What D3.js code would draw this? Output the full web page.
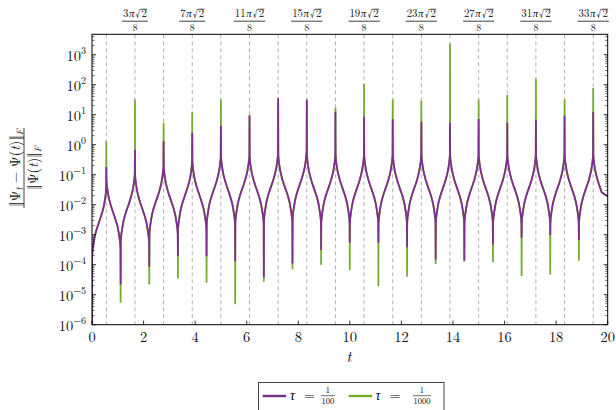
<!DOCTYPE html>
<html>
<head>
<meta charset="utf-8">
<script src="https://cdn.jsdelivr.net/npm/d3@7"></script>
<style>
  body { margin: 0; background: #fff; }
  svg { display: block; font-family: "Latin Modern Roman", "CMU Serif", "Liberation Serif", serif; }
</style>
</head>
<body>
<svg id="chart" width="616" height="410"></svg>
<script>
// ---- data ----
// spikes sit on t = (2k+1)·π√2/8, dips on t = k·π√2/4
const peakPurple = [0.18, 0.66, 1.3, 2.5, 4.3, 9.5, 36, 32, 12.6, 8.6, 7, 5.9, 5.4, 7.2, 5.4, 6.8, 9.3, 12.3];
const peakGreen  = [1.3, 32, 5.4, 12.3, 32, 9.3, 30, 28, 17, 108, 32, 29, 2300, 32, 45, 155, 32, 78];
const dipPurple = [2.2e-5, 8.5e-5, 1.9e-4, 1.9e-4, 1.3e-4, 3.8e-5, 1.1e-4, 3.1e-4, 5.4e-4,
                   5.4e-4, 3.8e-4, 1.5e-4, 1.3e-4, 4.6e-4, 7.9e-4, 9.8e-4, 6.6e-4];
const dipGreen  = [5.4e-6, 2.2e-5, 3.5e-5, 2.5e-5, 4.8e-6, 2.7e-5, 7.1e-5, 1.0e-4, 6.6e-5,
                   1.9e-5, 4.0e-5, 1.05e-4, 1.4e-4, 1.2e-4, 4.2e-5, 4.6e-5, 1.35e-4];
// level of the curve halfway between a dip and a spike, one per half period
const midLevel = [0.0027, 0.0051, 0.0085, 0.0076, 0.0145, 0.0145, 0.021, 0.021, 0.031, 0.031,
                  0.035, 0.032, 0.04, 0.035, 0.046, 0.035, 0.035, 0.035, 0.035, 0.035,
                  0.035, 0.035, 0.035, 0.035, 0.035, 0.035, 0.035, 0.035, 0.035, 0.035,
                  0.035, 0.035, 0.035, 0.035, 0.035, 0.035];
// shape of one half period: distance from the spike (fraction) and offset in decades
const shapeS   = [0.01, 0.03, 0.06, 0.1, 0.15, 0.2, 0.3, 0.4, 0.5, 0.6, 0.7, 0.8, 0.85, 0.9, 0.94, 0.97, 0.99];
const shapeDev = [1.1, 0.98, 0.85, 0.72, 0.58, 0.47, 0.29, 0.14, 0, -0.14, -0.29, -0.47, -0.6, -0.75, -0.88, -1.0, -1.15];
const startValue = 1e-6, endValue = 0.019;

const dashK = d3.range(1, 36, 2);                     // dashed lines at k·π√2/8
const topLabelPos = [3, 7, 11, 15, 19, 23, 27, 31, 35];
const topLabelNum = ["3", "7", "11", "15", "19", "23", "27", "31", "33"];
const xTicks = d3.range(0, 21, 2);
const yExp = d3.range(-6, 4);

const purple = "#7E2F8E", green = "#77AC30";

// ---- layout ----
const svg = d3.select("#chart");
const pL = 92, pR = 607.7, pT = 34.3, pB = 324.7;
const x = d3.scaleLinear().domain([0, 20]).range([pL, pR]);
const y = d3.scaleLog().domain([1e-6, Math.pow(10, 3.68)]).range([pB, pT]);

const base = Math.PI * Math.SQRT2 / 8;
const period = 2 * base;

svg.append("defs").append("clipPath").attr("id", "clip")
  .append("rect").attr("x", pL).attr("y", pT).attr("width", pR - pL).attr("height", pB - pT);

// dashed verticals
svg.append("g").selectAll("line").data(dashK).join("line")
  .attr("x1", k => x(k * base)).attr("x2", k => x(k * base))
  .attr("y1", pT).attr("y2", pB)
  .attr("stroke", "#a8a8a8").attr("stroke-width", 0.9).attr("stroke-dasharray", "4,3");

function buildSeries(peaks, dips) {
  const pts = [[0, startValue]];
  for (let h = 0; h < 36; h++) {
    const k = Math.floor(h / 2);
    const ts = (2 * k + 1) * base;
    const mid = midLevel[h];
    if (h % 2 === 0) {
      for (let i = shapeS.length - 1; i >= 0; i--)
        pts.push([ts - shapeS[i] * base, mid * Math.pow(10, shapeDev[i])]);
      pts.push([ts, peaks[k]]);
    } else {
      for (let i = 0; i < shapeS.length; i++) {
        const t = ts + shapeS[i] * base;
        if (t > 19.8) break;
        pts.push([t, mid * Math.pow(10, shapeDev[i])]);
      }
      if (k < dips.length) pts.push([(k + 1) * period, dips[k]]);
    }
  }
  pts.push([20, endValue]);
  return pts;
}

const line = d3.line().x(d => x(d[0])).y(d => y(d[1]));
const plot = svg.append("g").attr("clip-path", "url(#clip)");
[[peakGreen, dipGreen, green], [peakPurple, dipPurple, purple]].forEach(([p, dp, c]) => {
  plot.append("path").datum(buildSeries(p, dp))
    .attr("d", line).attr("fill", "none").attr("stroke", c)
    .attr("stroke-width", 1.8).attr("stroke-linejoin", "bevel");
});

// ---- axes ----
const minor = [];
yExp.forEach(e => { for (let m = 2; m <= 9; m++) { const v = m * Math.pow(10, e); if (v < y.domain()[1]) minor.push(v); } });

const ticks = svg.append("g").attr("stroke", "#000").attr("stroke-width", 0.8);
yExp.forEach(e => {
  const yy = y(Math.pow(10, e));
  ticks.append("line").attr("x1", pL).attr("x2", pL + 4).attr("y1", yy).attr("y2", yy);
  ticks.append("line").attr("x1", pR).attr("x2", pR - 4).attr("y1", yy).attr("y2", yy);
});
minor.forEach(v => {
  const yy = y(v);
  ticks.append("line").attr("x1", pL).attr("x2", pL + 2.5).attr("y1", yy).attr("y2", yy).attr("stroke-width", 0.6);
  ticks.append("line").attr("x1", pR).attr("x2", pR - 2.5).attr("y1", yy).attr("y2", yy).attr("stroke-width", 0.6);
});
xTicks.forEach(v => {
  ticks.append("line").attr("x1", x(v)).attr("x2", x(v)).attr("y1", pB).attr("y2", pB - 4);
});

svg.append("rect").attr("x", pL).attr("y", pT).attr("width", pR - pL).attr("height", pB - pT)
  .attr("fill", "none").attr("stroke", "#000").attr("stroke-width", 1);

// y tick labels
yExp.forEach(e => {
  const t = svg.append("text").attr("x", 86).attr("y", y(Math.pow(10, e)) + 6)
    .attr("text-anchor", "end").attr("font-size", 14.5).attr("fill", "#111");
  t.append("tspan").text("10");
  t.append("tspan").attr("dy", -7).attr("font-size", 10).text(e < 0 ? "\u2212" + (-e) : String(e));
});

// x tick labels
svg.append("g").selectAll("text").data(xTicks).join("text")
  .attr("x", d => x(d)).attr("y", 341.5).attr("text-anchor", "middle")
  .attr("font-size", 14.5).attr("fill", "#111").text(d => d);

svg.append("text").attr("x", 349).attr("y", 362).attr("text-anchor", "middle")
  .attr("font-size", 15).attr("font-style", "italic").text("t");

// top labels  (n π √2 / 8)
topLabelPos.forEach((k, i) => {
  const cx = x(k * base);
  const g = svg.append("g").attr("fill", "#111");
  const num = g.append("text").attr("x", cx).attr("y", 17.3)
    .attr("text-anchor", "middle").attr("font-size", 10.8);
  num.append("tspan").text(topLabelNum[i]);
  num.append("tspan").attr("font-style", "italic").attr("dx", 0.6).text("\u03c0");
  num.append("tspan").attr("dx", 1.2).text("\u221a");
  num.append("tspan").attr("dx", 0.8).text("2");
  const nd = num.node();
  const n = nd.getNumberOfChars();
  const ext2 = nd.getExtentOfChar(n - 1);
  const ext0 = nd.getExtentOfChar(0);
  g.append("line").attr("x1", ext2.x - 0.8).attr("x2", ext2.x + ext2.width + 0.3)
    .attr("y1", 9.2).attr("y2", 9.2).attr("stroke", "#111").attr("stroke-width", 0.7);
  g.append("line").attr("x1", ext0.x - 1).attr("x2", ext2.x + ext2.width + 1)
    .attr("y1", 21.2).attr("y2", 21.2).attr("stroke", "#111").attr("stroke-width", 0.8);
  g.append("text").attr("x", cx).attr("y", 30.8).attr("font-size", 10)
    .attr("text-anchor", "middle").text("8");
});

// y axis label (rotated fraction)
const yl = svg.append("g").attr("transform", "translate(24,168) rotate(-90)")
  .attr("font-size", 14).attr("fill", "#111");
const ynum = yl.append("text").attr("x", 0).attr("y", -4).attr("text-anchor", "middle");
ynum.append("tspan").text("\u2016\u03a8");
ynum.append("tspan").attr("font-size", 9.5).attr("font-style", "italic").attr("dy", 3).text("t");
ynum.append("tspan").attr("dy", -3).text(" \u2212 \u03a8(");
ynum.append("tspan").attr("font-style", "italic").text("t");
ynum.append("tspan").text(")\u2016");
ynum.append("tspan").attr("font-size", 9.5).attr("font-style", "italic").attr("dy", 3).text("F");
const nw = ynum.node().getComputedTextLength();
yl.append("line").attr("x1", -nw / 2 - 1).attr("x2", nw / 2 + 1).attr("y1", 0).attr("y2", 0)
  .attr("stroke", "#111").attr("stroke-width", 0.8);
const yden = yl.append("text").attr("x", 0).attr("y", 14).attr("text-anchor", "middle");
yden.append("tspan").text("\u2016\u03a8(");
yden.append("tspan").attr("font-style", "italic").text("t");
yden.append("tspan").text(")\u2016");
yden.append("tspan").attr("font-size", 9.5).attr("font-style", "italic").attr("dy", 3).text("F");

// legend
const lg = svg.append("g");
lg.append("rect").attr("x", 258.5).attr("y", 382.5).attr("width", 185.5).attr("height", 30)
  .attr("fill", "#fff").attr("stroke", "#333").attr("stroke-width", 0.9);
const legendItems = [
  { color: purple, x0: 262.7, tx: 290, fx: 328, den: "100" },
  { color: green, x0: 348.7, tx: 375.5, fx: 422, den: "1000" }
];
legendItems.forEach(it => {
  lg.append("line").attr("x1", it.x0).attr("x2", it.x0 + 23.5).attr("y1", 396).attr("y2", 396)
    .attr("stroke", it.color).attr("stroke-width", 2.4);
  lg.append("text").attr("x", it.tx).attr("y", 400).attr("font-size", 14)
    .attr("font-style", "italic").text("\u03c4");
  lg.append("text").attr("x", it.tx + 14).attr("y", 400).attr("font-size", 14).text("=");
  const fr = lg.append("text").attr("font-size", 8.5).attr("text-anchor", "middle");
  fr.append("tspan").attr("x", it.fx).attr("y", 393).text("1");
  fr.append("tspan").attr("x", it.fx).attr("y", 403.5).text(it.den);
  const dw = it.den.length * 4.3;
  lg.append("line").attr("x1", it.fx - dw / 2 - 0.5).attr("x2", it.fx + dw / 2 + 0.5)
    .attr("y1", 395.7).attr("y2", 395.7).attr("stroke", "#111").attr("stroke-width", 0.6);
});
</script>
</body>
</html>
